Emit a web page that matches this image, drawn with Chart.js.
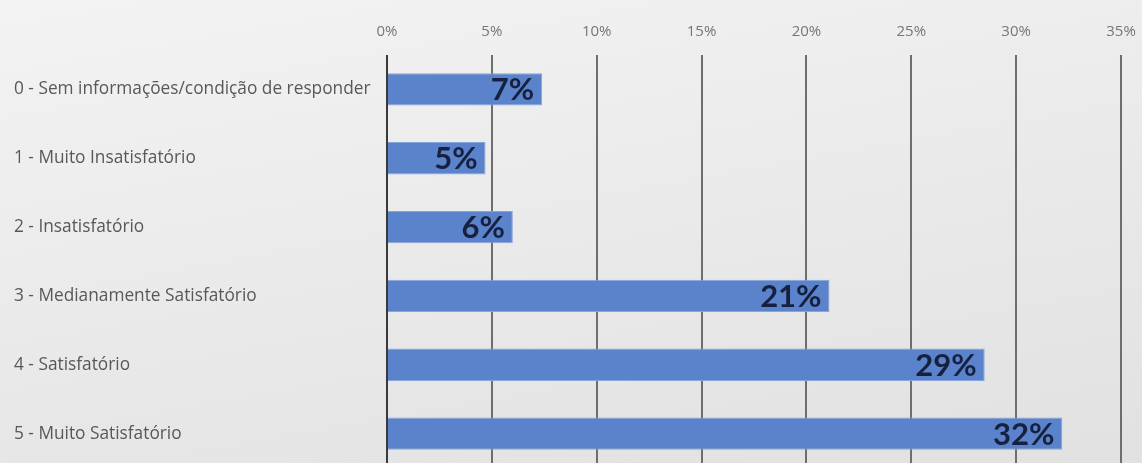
<!DOCTYPE html>
<html lang="pt">
<head>
    <meta charset="UTF-8">
    <title>Satisfação</title>
    <script src="https://cdn.jsdelivr.net/npm/chart.js"></script>
    <style>
        html, body {
            margin: 0;
            padding: 0;
            width: 1142px;
            height: 463px;
            overflow: hidden;
        }
        body {
            background: linear-gradient(170deg, #f3f3f3 0%, #e9e9e9 55%, #e1e1e1 100%);
        }
        #satisfacaoChart {
            display: block;
        }
    </style>
</head>
<body>
    <!-- canvas bigger than the window on purpose, right/bottom padding falls outside the view -->
    <canvas id="satisfacaoChart" width="1161" height="488"></canvas>

    <script>
        const categories = [
            '0 - Sem informações/condição de responder',
            '1 - Muito Insatisfatório',
            '2 - Insatisfatório',
            '3 - Medianamente Satisfatório',
            '4 - Satisfatório',
            '5 - Muito Satisfatório'
        ];
        // bar lengths (percent)
        const percentages = [7.4, 4.7, 6.0, 21.1, 28.5, 32.2];
        // labels printed on the bars
        const barLabels = ['7%', '5%', '6%', '21%', '29%', '32%'];
        const axisMax = 35;
        const axisStep = 5;

        // draws the big value labels at the end of each bar
        const barLabelPlugin = {
            id: 'barLabels',
            afterDatasetsDraw(chart) {
                const ctx = chart.ctx;
                const meta = chart.getDatasetMeta(0);
                ctx.save();
                ctx.font = 'bold 31px Lato, sans-serif';
                ctx.fillStyle = '#17213f';
                ctx.textAlign = 'right';
                ctx.textBaseline = 'middle';
                meta.data.forEach((bar, i) => {
                    ctx.fillText(barLabels[i], bar.x - 8, bar.y + 1);
                });
                ctx.restore();
            }
        };

        const ctx = document.getElementById('satisfacaoChart').getContext('2d');
        const chart = new Chart(ctx, {
            type: 'bar',
            data: {
                labels: categories,
                datasets: [{
                    data: percentages,
                    backgroundColor: '#5a83cb',
                    borderColor: '#86a5da',
                    borderWidth: 1,
                    barPercentage: 0.47,
                    categoryPercentage: 1
                }]
            },
            options: {
                indexAxis: 'y',
                responsive: false,
                animation: false,
                layout: {
                    padding: { left: 14, right: 40, top: 0, bottom: 20 }
                },
                plugins: {
                    legend: { display: false },
                    tooltip: { enabled: false }
                },
                scales: {
                    x: {
                        position: 'top',
                        min: 0,
                        max: axisMax,
                        afterFit(scale) {
                            scale.height = 55;
                        },
                        ticks: {
                            stepSize: axisStep,
                            padding: 14,
                            color: '#767676',
                            font: { family: 'Open Sans', size: 15 },
                            callback: (v) => v + '%'
                        },
                        grid: {
                            drawTicks: false,
                            lineWidth: 2,
                            color: (c) => (c.tick && c.tick.value === 0) ? '#3a3a3a' : '#6e6e6e'
                        },
                        border: { display: false }
                    },
                    y: {
                        afterFit(scale) {
                            scale.width = 373;
                        },
                        ticks: {
                            crossAlign: 'far',
                            color: '#585858',
                            font: { family: 'Open Sans', size: 17.3 }
                        },
                        grid: { display: false },
                        border: { display: false }
                    }
                }
            },
            plugins: [barLabelPlugin]
        });
    </script>
</body>
</html>
